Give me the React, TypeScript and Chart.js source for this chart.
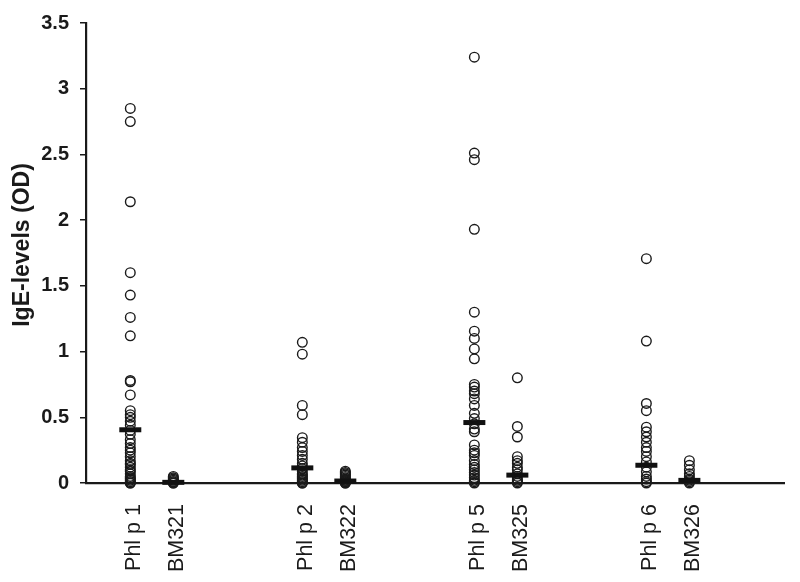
import React, { useEffect, useRef } from "react";
import { Chart, registerables } from "chart.js";

Chart.register(...registerables);

const categories = ["Phl p 1", "BM321", "Phl p 2", "BM322", "Phl p 5", "BM325", "Phl p 6", "BM326"];
const xPositions = [1.03, 2.03, 5.03, 6.03, 9.03, 10.03, 13.03, 14.03];

const phlp1 = [2.85, 2.75, 2.14, 1.6, 1.43, 1.26, 1.12, 0.78, 0.77, 0.67, 0.55, 0.52, 0.5, 0.47, 0.44, 0.4, 0.37, 0.33, 0.3, 0.27, 0.25, 0.23, 0.2, 0.17, 0.15, 0.14, 0.12, 0.1, 0.09, 0.07, 0.05, 0.04, 0.03, 0.02, 0.01, 0.0, 0.0];
const bm321 = [0.05, 0.04, 0.03, 0.02, 0.01, 0.01, 0.0, 0.0];
const phlp2 = [1.07, 0.98, 0.59, 0.52, 0.345, 0.31, 0.27, 0.24, 0.21, 0.18, 0.15, 0.13, 0.11, 0.09, 0.07, 0.06, 0.05, 0.04, 0.03, 0.02, 0.01, 0.0, 0.0];
const bm322 = [0.09, 0.08, 0.07, 0.06, 0.05, 0.04, 0.03, 0.02, 0.02, 0.01, 0.01, 0.0, 0.0];
const phlp5 = [3.24, 2.51, 2.46, 1.93, 1.3, 1.155, 1.1, 1.02, 0.945, 0.75, 0.73, 0.7, 0.68, 0.64, 0.59, 0.53, 0.49, 0.45, 0.41, 0.39, 0.29, 0.25, 0.23, 0.21, 0.17, 0.14, 0.12, 0.1, 0.08, 0.06, 0.04, 0.02, 0.01, 0.0];
const bm325 = [0.8, 0.43, 0.35, 0.2, 0.17, 0.15, 0.12, 0.1, 0.07, 0.05, 0.03, 0.02, 0.01, 0.0];
const phlp6 = [1.707, 1.08, 0.605, 0.55, 0.425, 0.39, 0.35, 0.31, 0.27, 0.24, 0.2, 0.16, 0.12, 0.085, 0.05, 0.03, 0.01, 0.0];
const bm326 = [0.17, 0.135, 0.1, 0.07, 0.05, 0.03, 0.02, 0.01, 0.0];

const seriesValues = [phlp1, bm321, phlp2, bm322, phlp5, bm325, phlp6, bm326];
const medians = [0.405, 0.005, 0.115, 0.015, 0.46, 0.06, 0.135, 0.02];

const yTicks = [0, 0.5, 1, 1.5, 2, 2.5, 3, 3.5];
const yTitle = "IgE-levels (OD)";

const FONT = "'Liberation Sans', Arial, Helvetica, sans-serif";

export default function App() {
  const ref = useRef<HTMLCanvasElement | null>(null);

  useEffect(() => {
    if (!ref.current) return;
    const points = seriesValues.flatMap((vals, i) => vals.map((v) => ({ x: xPositions[i], y: v })));
    const medPts = medians.map((m, i) => ({ x: xPositions[i], y: m }));

    const titlePlugin = {
      id: "yTitlePlugin",
      afterDraw(chart: any) {
        const ctx = chart.ctx;
        ctx.save();
        ctx.translate(29, 245);
        ctx.rotate(-Math.PI / 2);
        ctx.font = `bold 23px ${FONT}`;
        ctx.fillStyle = "#1a1a1a";
        ctx.textAlign = "center";
        ctx.textBaseline = "alphabetic";
        ctx.fillText(yTitle, 0, 0);
        ctx.restore();
      },
    };

    const chart = new Chart(ref.current, {
      type: "scatter",
      data: {
        datasets: [
          {
            label: "median",
            data: medPts,
            pointStyle: "line",
            pointRadius: 11,
            pointBorderWidth: 5,
            borderColor: "#111",
            backgroundColor: "#111",
            order: 0,
            clip: false,
          } as any,
          {
            label: "values",
            data: points,
            pointStyle: "circle",
            pointRadius: 4.8,
            pointBorderWidth: 1.4,
            borderColor: "#1a1a1a",
            backgroundColor: "rgba(255,255,255,0)",
            order: 1,
            clip: false,
          } as any,
        ],
      },
      options: {
        animation: false,
        responsive: true,
        maintainAspectRatio: false,
        layout: { padding: { top: 19, right: 0, left: 0, bottom: 0 } },
        plugins: {
          legend: { display: false },
          tooltip: { enabled: false },
        },
        scales: {
          x: {
            type: "linear",
            min: 0,
            max: 16.23,
            afterBuildTicks: (scale: any) => {
              scale.ticks = xPositions.map((v) => ({ value: v }));
            },
            afterFit: (scale: any) => {
              scale.height = 99;
            },
            ticks: {
              autoSkip: false,
              minRotation: 90,
              maxRotation: 90,
              padding: 21,
              labelOffset: 4,
              color: "#1a1a1a",
              font: { family: FONT, size: 21.5 },
              callback: (_v: any, i: number) => categories[i],
            },
            grid: { display: true, drawOnChartArea: false, drawTicks: false, color: "rgba(0,0,0,0)" },
            border: { display: true, color: "#1a1a1a", width: 2.2 },
          },
          y: {
            type: "linear",
            min: 0,
            max: 3.5,
            afterBuildTicks: (scale: any) => {
              scale.ticks = yTicks.map((v) => ({ value: v }));
            },
            afterFit: (scale: any) => {
              scale.width = 86;
            },
            ticks: {
              padding: 11,
              color: "#1a1a1a",
              font: { family: FONT, size: 20, weight: "bold" },
              callback: (v: any) => String(v),
            },
            grid: {
              display: true,
              drawOnChartArea: false,
              drawTicks: true,
              tickLength: 6,
              color: "#1a1a1a",
              lineWidth: 1.5,
            },
            border: { display: true, color: "#1a1a1a", width: 2.2 },
          },
        },
      },
      plugins: [titlePlugin],
    } as any);

    return () => chart.destroy();
  }, []);

  return (
    <div style={{ position: "fixed", left: 0, top: 0, width: 800, height: 582, background: "#fff" }}>
      <canvas ref={ref} />
    </div>
  );
}
